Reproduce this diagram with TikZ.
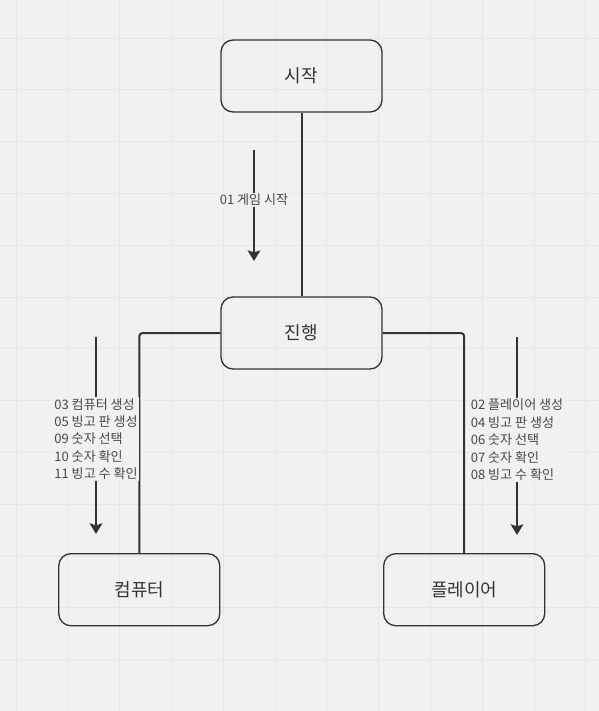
\documentclass[tikz,border=0pt]{standalone}
\usepackage{fontspec}
\setmainfont{Noto Sans CJK KR}
\usetikzlibrary{arrows.meta}

\definecolor{canvas}{HTML}{F1F1F1}
\definecolor{gridline}{HTML}{E7E7E7}
\definecolor{ink}{HTML}{333333}

\begin{document}
\begin{tikzpicture}[x=0.75pt, y=-0.75pt, line width=1.5pt,
    state/.style={draw=ink, line width=1pt, rounded corners=9pt,
        minimum width=120.75pt, minimum height=54pt, text=ink,
        font=\fontsize{13.5}{16}\selectfont},
    link/.style={draw=ink, rounded corners=2.5pt},
    flow/.style={draw=ink, -{Stealth[length=8pt, width=9.5pt, inset=1.5pt]}},
    steps/.style={fill=canvas, text=ink!90, align=left, inner sep=1pt,
        font=\fontsize{9.8}{13.1}\selectfont}]

    % Canvas and grid.
    \fill[canvas] (0, 0) rectangle (599, 711);
    \useasboundingbox (0, 0) rectangle (599, 711);
    \foreach \gx in {0,...,11}
        \draw[gridline, line width=0.6pt] ({16+51.8*\gx}, 0) -- ({16+51.8*\gx}, 711);
    \foreach \gy in {0,...,12}
        \draw[gridline, line width=0.6pt] (0, {38+51.8*\gy}) -- (599, {38+51.8*\gy});

    % The four states.
    \node[state] (Start)  at (301.5, 76)    {시작};
    \node[state] (Run)    at (301.5, 333)   {진행};
    \node[state] (Comp)   at (139.3, 589.7) {컴퓨터};
    \node[state] (Player) at (464.2, 589.7) {플레이어};

    % Links between the states.
    \draw[link] (Start) -- (Run);
    \draw[link] (Run.west) -| (Comp.north);
    \draw[link] (Run.east) -| (Player.north);

    % Coordinates for the ends of the flow arrows.
    \coordinate (F1a) at (254, 150);
    \coordinate (F1b) at (254, 261);
    \coordinate (F2a) at (96, 337);
    \coordinate (F2b) at (96, 534);
    \coordinate (F3a) at (517, 337);
    \coordinate (F3b) at (517, 535);

    % Flow arrows with their steps.
    \draw[flow] (F1a) -- node[steps, pos=0.45] (L1) {01 게임 시작} (F1b);
    \draw[flow] (F2a) -- node[steps, pos=0.518] (L2)
        {03 컴퓨터 생성\\05 빙고 판 생성\\09 숫자 선택\\10 숫자 확인\\11 빙고 수 확인} (F2b);
    \draw[flow] (F3a) -- node[steps, pos=0.52] (L3)
        {02 플레이어 생성\\04 빙고 판 생성\\06 숫자 선택\\07 숫자 확인\\08 빙고 수 확인} (F3b);
\end{tikzpicture}
\end{document}
